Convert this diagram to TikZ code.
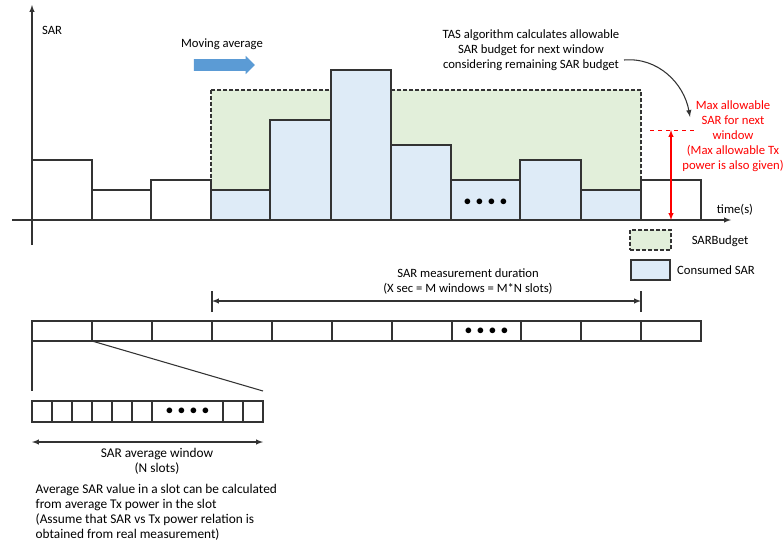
\documentclass[tikz,border=0pt]{standalone}
\usepackage{fontspec}
\setmainfont{Carlito}
\usepackage{tikz}
\usepackage{xcolor}
\usetikzlibrary{shapes.arrows}
\usetikzlibrary{positioning}
\usetikzlibrary{arrows}

\definecolor{budgetgreen}{HTML}{E2EFDA}
\definecolor{consumedblue}{HTML}{DEEBF7}
\definecolor{movingblue}{HTML}{5B9BD5}
\newcommand{\slotdots}{{\fontsize{11}{11}\selectfont${\bullet}\hspace{3.5pt}{\bullet}\hspace{3.5pt}{\bullet}\hspace{3.5pt}{\bullet}$}}

\begin{document}
\begin{tikzpicture}[x=0.75pt, y=-0.75pt, font=\fontsize{9.5}{11.25}\selectfont, >=latex,
    bar/.style={draw=black!80, line width=0.8pt},
    usedbar/.style={bar, fill=consumedblue},
    budget/.style={draw=black!80, fill=budgetgreen, line width=1.5pt, dash pattern=on 3pt off 1.5pt},
    slot/.style={draw=black!80, line width=0.8pt, minimum width=45pt, minimum height=15pt, inner sep=0pt, outer sep=0pt},
    subslot/.style={slot, minimum width=15pt, minimum height=15.75pt},
    note/.style={font=\fontsize{10}{11.25}\selectfont}]
    \useasboundingbox (0,0) rectangle (783,544);

    \draw[budget] (211,90) rectangle (641,220);
    \draw[bar] (32,220) rectangle (92,160);
    \draw[bar] (92,220) rectangle (151,190);
    \draw[bar] (151,220) rectangle (211,180);
    \draw[usedbar] (211,220) rectangle (270,190);
    \draw[usedbar] (270,220) rectangle (331,120);
    \draw[usedbar] (331,220) rectangle (391,70);
    \draw[usedbar] (391,220) rectangle (451,145);
    \draw[usedbar] (451,220) rectangle (520,180);
    \draw[usedbar] (520,220) rectangle (581,160);
    \draw[usedbar] (581,220) rectangle (641,190);
    \draw[bar] (641,220) rectangle (701,180);
    \node (bardots) at (485.5,202) {\slotdots};

    \coordinate (xstart) at (12,220);
    \coordinate (xend) at (731,220);
    \coordinate (ystart) at (32,245);
    \coordinate (yend) at (32,5);
    \draw[->, bar] (xstart) -- (xend);
    \draw[->, bar] (ystart) -- (yend);
    \node (sar) at (52,30) {SAR};
    \node (time) at (735,210) {time(s)};

    \node (moving) at (222,44) {Moving average};
    \node[single arrow, fill=movingblue, minimum height=45.75pt, text height=8.25pt, text depth=0pt, single arrow head extend=2.6pt, inner sep=0pt] (movearrow) at (221.5,65) {};

    \node[align=center] (tas) at (531,50) {TAS algorithm calculates allowable\\SAR budget for next window\\considering remaining SAR budget};
    \node[align=center, text=red] (maxsar) at (733,136) {Max allowable\\SAR for next\\window\\(Max allowable Tx\\power is also given)};
    \coordinate (budgettip) at (690,117);
    \draw[->, bar] ([yshift=-7.5pt]tas.east) to[out=5, in=100] (budgettip);

    \coordinate (maxtop) at (671,130);
    \coordinate (maxbot) at (671,220);
    \draw[red, dashed, line width=0.6pt] ([xshift=-15.75pt]maxtop) -- ([xshift=18pt]maxtop);
    \draw[<->, red, line width=0.8pt] (maxtop) -- (maxbot);

    \node[budget, minimum width=30.75pt, minimum height=15pt] (budgetkey) at (650.5,240) {};
    \node (budgetlabel) at (720,241) {SARBudget};
    \node[bar, fill=consumedblue, minimum width=29.25pt, minimum height=15pt] (usedkey) at (650.5,270) {};
    \node (usedlabel) at (716,270) {Consumed SAR};

    \node[slot] (w1) at (62,331) {};
    \node[slot, right=0pt of w1] (w2) {};
    \node[slot, right=0pt of w2] (w3) {};
    \node[slot, right=0pt of w3] (w4) {};
    \node[slot, right=0pt of w4] (w5) {};
    \node[slot, right=0pt of w5] (w6) {};
    \node[slot, right=0pt of w6] (w7) {};
    \node[slot, minimum width=51.75pt, right=0pt of w7] (w8) {\slotdots};
    \node[slot, right=0pt of w8] (w9) {};
    \node[slot, right=0pt of w9] (w10) {};
    \node[slot, right=0pt of w10] (w11) {};

    \draw[bar] ([yshift=6.75pt]w4.north west) -- ([yshift=22.5pt]w4.north west);
    \draw[bar] ([yshift=6.75pt]w10.north east) -- ([yshift=22.5pt]w10.north east);
    \draw[<->, bar] ([yshift=15pt]w4.north west) -- ([yshift=15pt]w10.north east);
    \node[align=center] (duration) at (468,281.5) {SAR measurement duration\\(X sec = M windows = M*N slots)};

    \node[subslot] (v1) at (42,411.5) {};
    \node[subslot, right=0pt of v1] (v2) {};
    \node[subslot, right=0pt of v2] (v3) {};
    \node[subslot, right=0pt of v3] (v4) {};
    \node[subslot, right=0pt of v4] (v5) {};
    \node[subslot, right=0pt of v5] (v6) {};
    \node[subslot, minimum width=53.25pt, right=0pt of v6] (v7) {\slotdots};
    \node[subslot, right=0pt of v7] (v8) {};
    \node[subslot, right=0pt of v8] (v9) {};

    \draw[bar] (w1.south west) -- ([yshift=7.5pt]v1.north west);
    \draw[bar] (w1.south east) -- ([yshift=7.5pt]v9.north east);
    \draw[<->, bar] ([yshift=-15pt]v1.south west) -- ([yshift=-15pt]v9.south east);
    \node[note, align=center] (avgwindow) at (157,461.5) {SAR average window\\(N slots)};
    \node[note, align=left, anchor=north west] (avgnote) at (31,480) {Average SAR value in a slot can be calculated\\from average Tx power in the slot\\(Assume that SAR vs Tx power relation is\\obtained from real measurement)};
\end{tikzpicture}
\end{document}
